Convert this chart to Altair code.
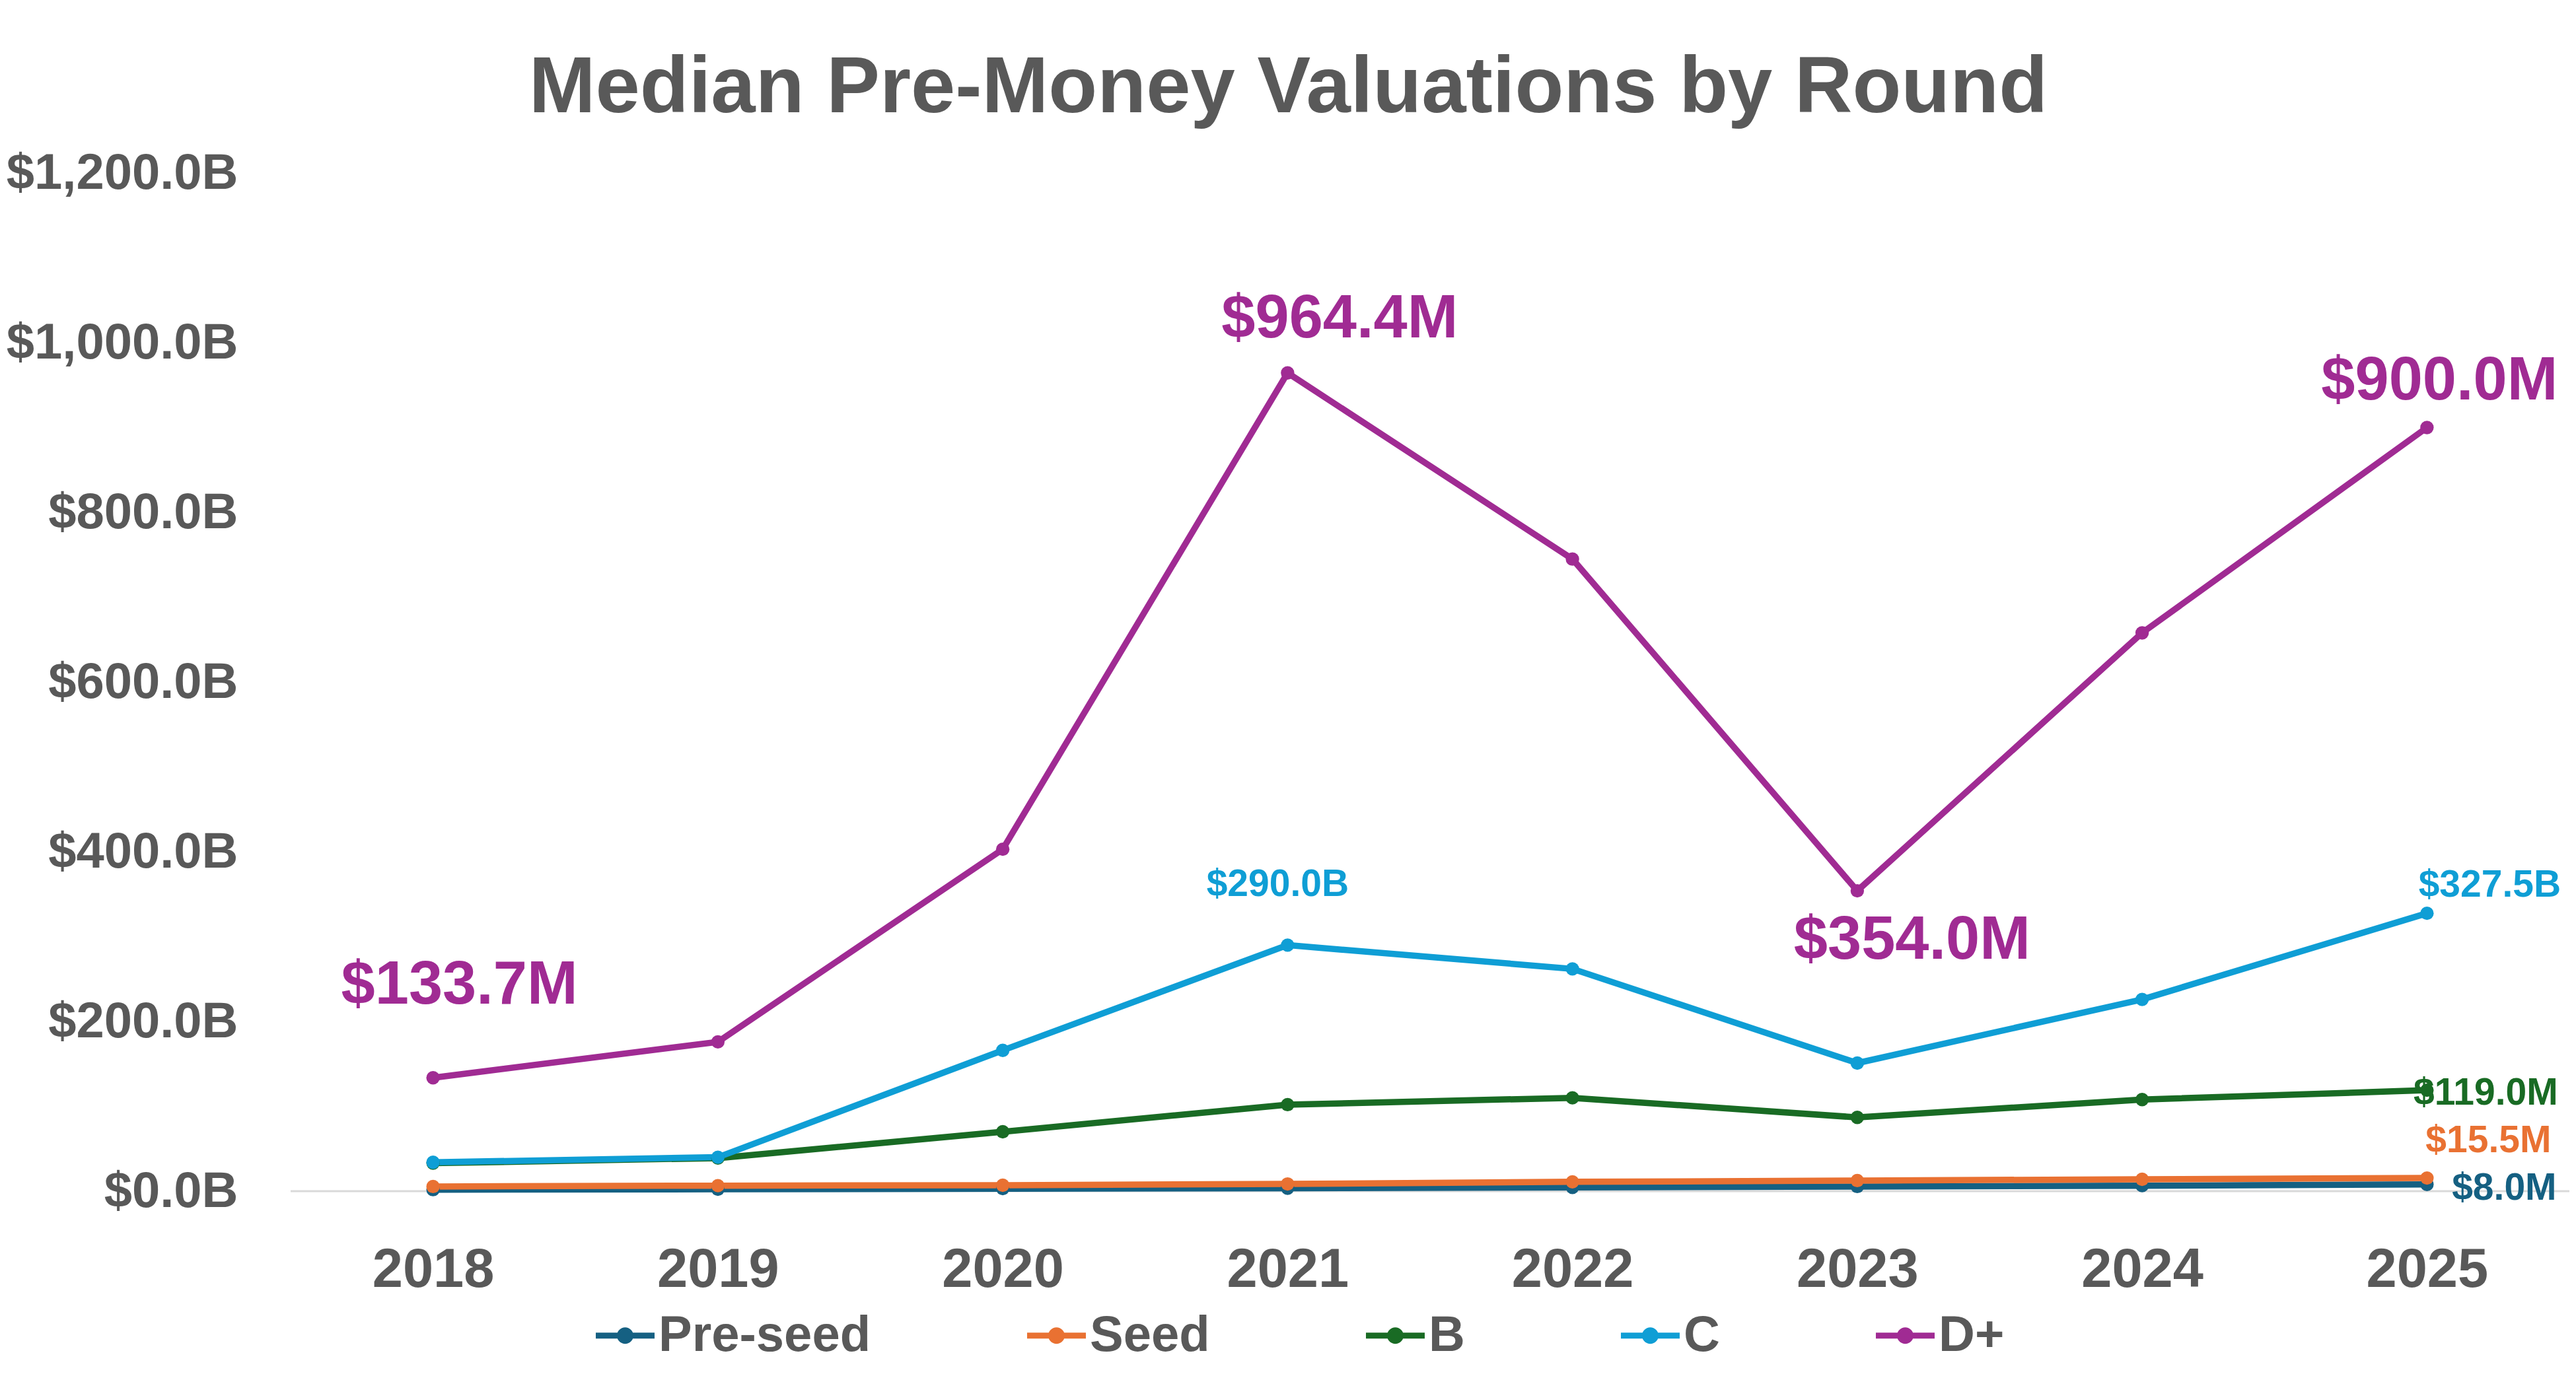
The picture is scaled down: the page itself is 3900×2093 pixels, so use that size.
import altair as alt
import pandas as pd

# ---- data ----
years = ["2018", "2019", "2020", "2021", "2022", "2023", "2024", "2025"]
series_names = ["Pre-seed", "Seed", "B", "C", "D+"]
series_colors = ["#156082", "#E97132", "#196B24", "#0F9ED5", "#A02B93"]

pre_seed = [1.8, 2.3, 3.0, 3.5, 4.5, 5.5, 6.5, 8.0]
seed = [5.5, 6.5, 7.0, 8.5, 11.0, 12.5, 14.0, 15.5]
b_round = [33, 39, 70, 102, 110, 87, 108, 119]
c_round = [34, 40, 166, 290, 262, 151, 226, 327.5]
d_plus = [133.7, 176, 403, 964.4, 745, 354, 658, 900]

y_ticks = [0, 200, 400, 600, 800, 1000, 1200]

label_series = ["D+", "D+", "D+", "D+", "C", "C", "B", "Seed", "Pre-seed"]
label_years = ["2018", "2021", "2023", "2025", "2021", "2025", "2025", "2025", "2025"]
label_texts = ["$133.7M", "$964.4M", "$354.0M", "$900.0M", "$290.0B", "$327.5B",
               "$119.0M", "$15.5M", "$8.0M"]

series_values = [pre_seed, seed, b_round, c_round, d_plus]

rows = []
for name, vals in zip(series_names, series_values):
    for yr, v in zip(years, vals):
        rows.append({"series": name, "year": yr, "value": v})
df = pd.DataFrame(rows)

FONT = "Liberation Sans"
GREY = "#595959"
color_of = dict(zip(series_names, series_colors))

x_enc = alt.X(
    "year:O",
    scale=alt.Scale(type="point", padding=0.5, domain=years),
    axis=alt.Axis(title=None, labelAngle=0, labelFont=FONT, labelFontSize=83,
                  labelFontWeight="bold", labelColor=GREY, labelPadding=78,
                  ticks=False, domain=False, grid=False, labelLimit=1000),
)
y_enc = alt.Y(
    "value:Q",
    scale=alt.Scale(domain=[0, 1200], nice=False, zero=True),
    axis=alt.Axis(title=None, values=y_ticks, labelFont=FONT, labelFontSize=76,
                  labelFontWeight="bold", labelColor=GREY, labelPadding=80,
                  ticks=False, domain=False, grid=False, labelLimit=1000,
                  labelExpr="'$' + format(datum.value, ',.1f') + 'B'"),
)
color_scale = alt.Scale(domain=series_names, range=series_colors)

legend_symbol = ("M-1,-0.1L1,-0.1L1,0.1L-1,0.1Z "
                 "M-0.28,0A0.28,0.28,0,1,1,0.28,0A0.28,0.28,0,1,1,-0.28,0Z")

base_rule = alt.Chart(pd.DataFrame({"value": [0]})).mark_rule(
    color="#D9D9D9", strokeWidth=3
).encode(y=y_enc)

lines = alt.Chart(df).mark_line(strokeWidth=9.5).encode(
    x=x_enc, y=y_enc,
    color=alt.Color("series:N", scale=color_scale, legend=None),
)

points = alt.Chart(df).mark_circle(size=415, opacity=1).encode(
    x=x_enc, y=y_enc,
    color=alt.Color(
        "series:N", scale=color_scale,
        legend=alt.Legend(
            title=None, orient="none", direction="horizontal",
            legendX=462, legendY=1716, symbolType=legend_symbol,
            symbolSize=7921, symbolStrokeWidth=0, symbolOpacity=1,
            labelFont=FONT, labelFontSize=76, labelFontWeight="bold",
            labelColor=GREY, labelOffset=6, columnPadding=236, padding=0,
            labelLimit=1000,
        ),
    ),
)

# label styles: (fontSize, dx, dy) per label, in the same order as label_texts
label_styles = [
    (92, 40, -140), (92, 79, -82), (92, 83, 75), (92, 19, -71),
    (57, -15, -91), (57, 95, -42), (57, 89, 5), (57, 93, -56), (57, 117, 6),
]

label_layers = []
for s, yr, txt, (fs, dx, dy) in zip(label_series, label_years, label_texts, label_styles):
    val = series_values[series_names.index(s)][years.index(yr)]
    ldf = pd.DataFrame({"series": [s], "year": [yr], "value": [val], "label": [txt]})
    label_layers.append(
        alt.Chart(ldf).mark_text(
            font=FONT, fontSize=fs, fontWeight="bold", color=color_of[s],
            align="center", baseline="middle", dx=dx, dy=dy,
        ).encode(x=x_enc, y=y_enc, text="label:N")
    )

chart = alt.layer(base_rule, lines, points, *label_layers).resolve_legend(
    color="independent"
).properties(
    width=3450,
    height=1542,
    background="white",
    title=alt.TitleParams(
        text="Median Pre-Money Valuations by Round",
        font=FONT, fontSize=121, fontWeight="bold", color=GREY,
        anchor="middle", frame="bounds", baseline="alphabetic", offset=55, dy=122,
    ),
    autosize=alt.AutoSizeParams(type="none"),
    padding={"left": 432, "top": 254, "right": 0, "bottom": 270},
).configure_view(strokeWidth=0, stroke="transparent")

chart.save("out.html", embed_options={"renderer": "svg", "actions": False})
